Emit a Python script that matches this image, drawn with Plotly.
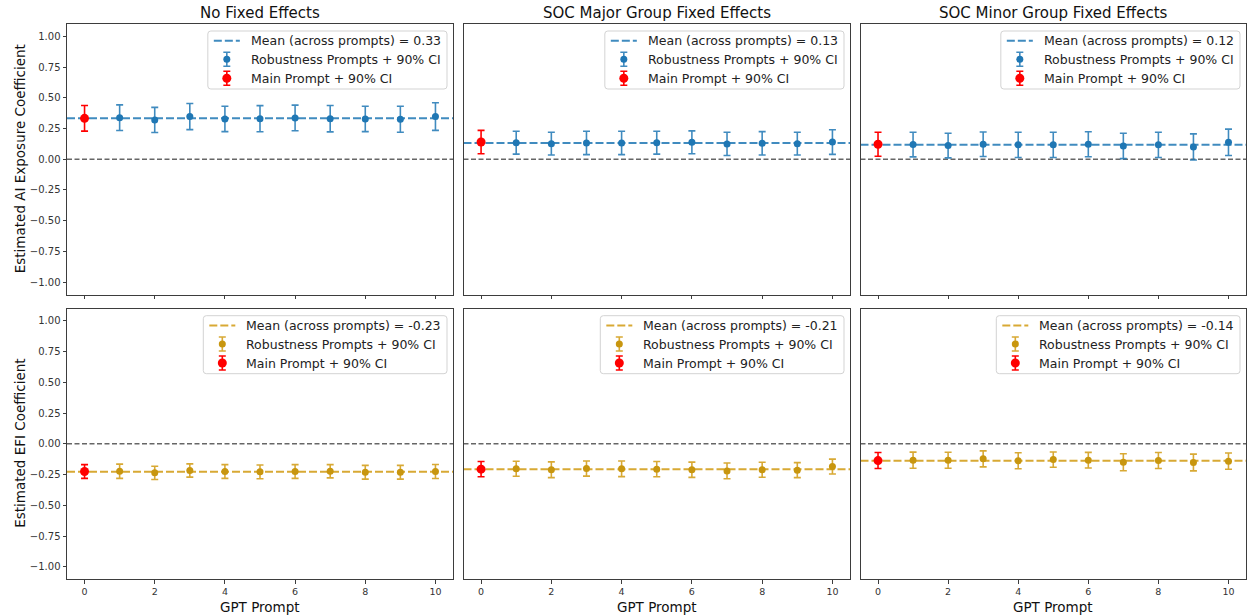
import numpy as np
import plotly.graph_objects as go

# ---- data -----------------------------------------------------------------
prompts = list(range(11))  # prompt 0 = main prompt, 1..10 = robustness prompts

panel_titles = ["No Fixed Effects", "SOC Major Group Fixed Effects", "SOC Minor Group Fixed Effects"]
row_titles = ["Estimated AI Exposure Coefficient", "Estimated EFI Coefficient"]
x_title = "GPT Prompt"

ai_none = [0.333, 0.338, 0.320, 0.347, 0.328, 0.330, 0.336, 0.330, 0.328, 0.325, 0.347]
ai_none_ci = [0.104, 0.104, 0.102, 0.106, 0.103, 0.106, 0.104, 0.107, 0.103, 0.106, 0.112]
ai_major = [0.140, 0.135, 0.127, 0.133, 0.133, 0.135, 0.138, 0.125, 0.130, 0.127, 0.140]
ai_major_ci = [0.095, 0.093, 0.092, 0.095, 0.095, 0.093, 0.093, 0.095, 0.095, 0.092, 0.100]
ai_minor = [0.122, 0.119, 0.111, 0.122, 0.117, 0.117, 0.122, 0.108, 0.117, 0.100, 0.138]
ai_minor_ci = [0.098, 0.100, 0.100, 0.100, 0.103, 0.103, 0.102, 0.103, 0.103, 0.106, 0.107]

efi_none = [-0.225, -0.223, -0.236, -0.217, -0.225, -0.228, -0.225, -0.223, -0.231, -0.231, -0.225]
efi_none_ci = [0.056, 0.058, 0.054, 0.054, 0.056, 0.056, 0.056, 0.054, 0.056, 0.056, 0.057]
efi_major = [-0.206, -0.203, -0.211, -0.201, -0.203, -0.206, -0.211, -0.220, -0.211, -0.214, -0.185]
efi_major_ci = [0.062, 0.061, 0.064, 0.062, 0.064, 0.062, 0.062, 0.064, 0.061, 0.061, 0.061]
efi_minor = [-0.136, -0.133, -0.133, -0.122, -0.138, -0.128, -0.133, -0.150, -0.136, -0.152, -0.141]
efi_minor_ci = [0.065, 0.066, 0.065, 0.065, 0.065, 0.062, 0.064, 0.069, 0.065, 0.068, 0.066]

yticks = [-1.0, -0.75, -0.5, -0.25, 0.0, 0.25, 0.5, 0.75, 1.0]
xticks = [0, 2, 4, 6, 8, 10]

label_mean = "Mean (across prompts) = {:.2f}"
label_rob = "Robustness Prompts + 90% CI"
label_main = "Main Prompt + 90% CI"

panels = [
    (ai_none, ai_none_ci), (ai_major, ai_major_ci), (ai_minor, ai_minor_ci),
    (efi_none, efi_none_ci), (efi_major, efi_major_ci), (efi_minor, efi_minor_ci),
]

# ---- styling ----------------------------------------------------------------
W, H = 1249, 616
FONT = "DejaVu Sans"
BLUE = "#1f77b4"
row_colors = [
    (BLUE, "rgba(31,119,180,0.85)"),
    ("#c8960f", "rgba(212,160,30,0.9)"),
]
MAIN_RED = "#ff0000"
AX_COLOR = "#3d3d3d"

cols_px = [(67, 453), (463.5, 850), (860.5, 1246)]
rows_px = [(24, 294.5), (308.7, 579)]

# DejaVu Sans advance widths (units per em = 2048), used to size legend boxes
ADV = {'M': 2025, 'e': 1260, 'a': 1255, 'n': 1298, ' ': 651, '(': 799, ')': 799,
       'c': 1126, 'r': 842, 'o': 1253, 's': 1067, 'p': 1300, 'm': 1995, 't': 803,
       '=': 1716, '-': 739, '.': 651, 'R': 1423, 'b': 1300, 'u': 1298, 'P': 1235,
       '+': 1716, '%': 1946, 'C': 1430, 'I': 604, 'i': 569}
for d in "0123456789":
    ADV[d] = 1303


def text_width(s, size):
    return sum(ADV.get(ch, 1200) for ch in s) / 2048 * size


LEG_FONT = 12.5

fig = go.Figure()
layout = dict(
    width=W, height=H, autosize=False,
    margin=dict(l=0, r=0, t=0, b=0),
    paper_bgcolor="white", plot_bgcolor="rgba(0,0,0,0)",
    showlegend=False,
    font=dict(family=FONT, color="#222"),
)
annotations = []
shapes = []

for i, (vals, ci) in enumerate(panels):
    r, c = divmod(i, 3)
    n = i + 1
    xa, ya = f"x{n}", f"y{n}"
    (c0, c1), (r0, r1) = cols_px[c], rows_px[r]
    layout[f"xaxis{n}"] = dict(
        domain=[c0 / W, c1 / W], anchor=ya, range=[-0.5, 10.5],
        tickvals=xticks, showticklabels=(r == 1), ticks="outside", ticklen=3.5,
        tickwidth=1, tickcolor=AX_COLOR, showline=True, mirror=True,
        linecolor=AX_COLOR, linewidth=1, showgrid=False, zeroline=False,
        tickfont=dict(family=FONT, size=9.5, color="#333"),
    )
    layout[f"yaxis{n}"] = dict(
        domain=[1 - r1 / H, 1 - r0 / H], anchor=xa, range=[-1.1, 1.1],
        tickvals=yticks, tickformat=".2f", showticklabels=(c == 0),
        ticks="outside" if c == 0 else "", ticklen=3.5, tickwidth=1,
        tickcolor=AX_COLOR, showline=True, mirror=True, linecolor=AX_COLOR,
        linewidth=1, showgrid=False, zeroline=False,
        tickfont=dict(family=FONT, size=10, color="#333"),
    )

    dot_color, line_color = row_colors[r]
    mean_val = float(np.mean(vals))

    # zero reference line
    fig.add_trace(go.Scatter(
        x=[-0.5, 10.5], y=[0, 0], mode="lines", xaxis=xa, yaxis=ya,
        line=dict(color="rgba(0,0,0,0.6)", width=1.5, dash="5px,2.5px"),
        hoverinfo="skip"))
    # mean across prompts
    fig.add_trace(go.Scatter(
        x=[-0.5, 10.5], y=[mean_val, mean_val], mode="lines", xaxis=xa, yaxis=ya,
        line=dict(color=line_color, width=2, dash="8px,3px"), hoverinfo="skip"))
    # robustness prompts
    fig.add_trace(go.Scatter(
        x=prompts[1:], y=vals[1:], mode="markers", xaxis=xa, yaxis=ya,
        marker=dict(color=dot_color, size=7),
        error_y=dict(type="data", array=ci[1:], color=line_color, thickness=1.6, width=3.5)))
    # main prompt
    fig.add_trace(go.Scatter(
        x=prompts[:1], y=vals[:1], mode="markers", xaxis=xa, yaxis=ya,
        marker=dict(color=MAIN_RED, size=9),
        error_y=dict(type="data", array=ci[:1], color=MAIN_RED, thickness=1.6, width=3.5)))

    # ---- legend box (drawn on the full-figure overlay axes, pixel units) ----
    labels = [label_mean.format(mean_val), label_rob, label_main]
    tw = max(text_width(s, LEG_FONT) for s in labels)
    right = c1 - 6
    top = r0 + 7
    left = right - (41 + tw + 6)
    bottom = top + 58
    rad = 3
    shapes.append(dict(
        type="path", xref="x7", yref="y7", layer="below",
        path=(f"M {left + rad},{top} L {right - rad},{top} Q {right},{top} {right},{top + rad} "
              f"L {right},{bottom - rad} Q {right},{bottom} {right - rad},{bottom} "
              f"L {left + rad},{bottom} Q {left},{bottom} {left},{bottom - rad} "
              f"L {left},{top + rad} Q {left},{top} {left + rad},{top} Z"),
        fillcolor="rgba(255,255,255,0.85)", line=dict(color="#d3d3d3", width=1)))
    ys = [top + 9.7, top + 28.3, top + 47.3]
    gx = left + 19
    fig.add_trace(go.Scatter(
        x=[left + 6, left + 32], y=[ys[0], ys[0]], mode="lines", xaxis="x7", yaxis="y7",
        line=dict(color=line_color, width=2, dash="8px,3px"), hoverinfo="skip"))
    fig.add_trace(go.Scatter(
        x=[gx], y=[ys[1]], mode="markers", xaxis="x7", yaxis="y7",
        marker=dict(color=dot_color, size=7),
        error_y=dict(type="data", array=[7], color=line_color, thickness=1.6, width=3.5),
        hoverinfo="skip"))
    fig.add_trace(go.Scatter(
        x=[gx], y=[ys[2]], mode="markers", xaxis="x7", yaxis="y7",
        marker=dict(color=MAIN_RED, size=9),
        error_y=dict(type="data", array=[7], color=MAIN_RED, thickness=1.6, width=3.5),
        hoverinfo="skip"))
    for s, yy in zip(labels, ys):
        annotations.append(dict(
            x=left + 41, y=yy, xref="x7", yref="y7", text=s, showarrow=False,
            xanchor="left", yanchor="middle",
            font=dict(family=FONT, size=LEG_FONT, color="#222")))

# full-figure overlay in pixel units for legend glyphs
layout["xaxis7"] = dict(domain=[0, 1], anchor="y7", range=[0, W], visible=False, fixedrange=True)
layout["yaxis7"] = dict(domain=[0, 1], anchor="x7", range=[H, 0], visible=False, fixedrange=True)

# column titles and x-axis titles
for c, t in enumerate(panel_titles):
    c0, c1 = cols_px[c]
    annotations.append(dict(
        x=(c0 + c1) / 2 / W, y=1 - 13 / H, xref="paper", yref="paper", text=t,
        showarrow=False, xanchor="center", yanchor="middle",
        font=dict(family=FONT, size=15, color="#111")))
    annotations.append(dict(
        x=(c0 + c1) / 2 / W, y=0, xref="paper", yref="paper", text=x_title,
        showarrow=False, xanchor="center", yanchor="bottom", borderpad=0,
        font=dict(family=FONT, size=13.5, color="#111")))

# row (y-axis) titles
for r, t in enumerate(row_titles):
    r0, r1 = rows_px[r]
    annotations.append(dict(
        x=20 / W, y=1 - (r0 + r1) / 2 / H, xref="paper", yref="paper", text=t,
        showarrow=False, xanchor="center", yanchor="middle", textangle=-90,
        font=dict(family=FONT, size=13.5, color="#111")))

layout["annotations"] = annotations
layout["shapes"] = shapes
fig.update_layout(**layout)
fig.write_html("out.html")
